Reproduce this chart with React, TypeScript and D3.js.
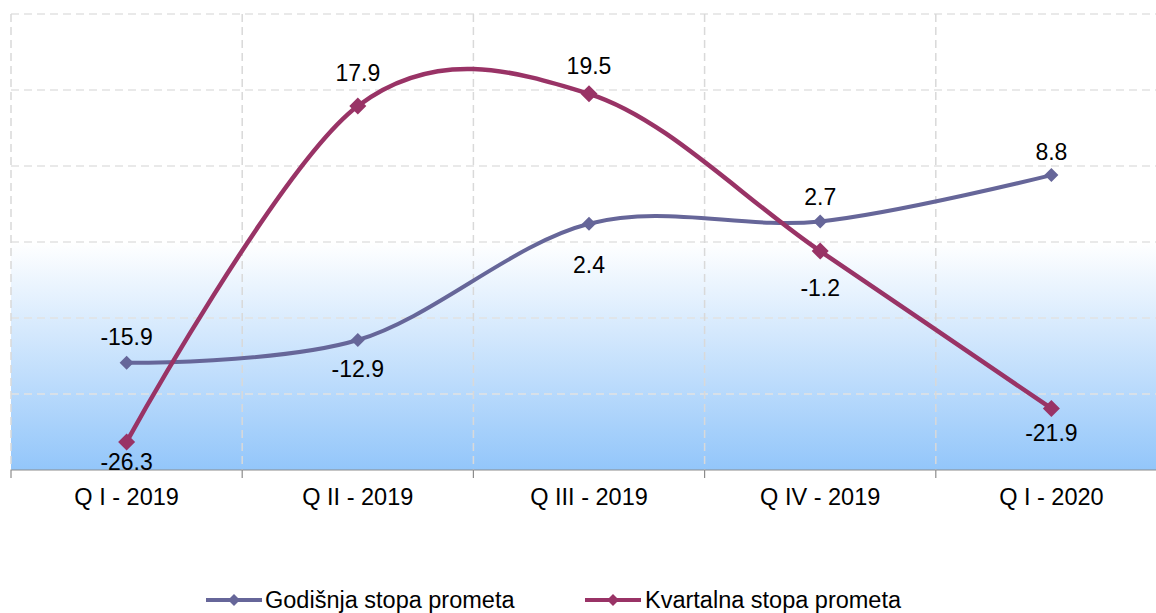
import React from "react";
import * as d3 from "d3";

const categories = ["Q I - 2019", "Q II - 2019", "Q III - 2019", "Q IV - 2019", "Q I - 2020"];
const godisnja = [-15.9, -12.9, 2.4, 2.7, 8.8];
const kvartalna = [-26.3, 17.9, 19.5, -1.2, -21.9];
const yTicks = [-30, -20, -10, 0, 10, 20, 30];
const seriesNames = ["Godišnja stopa prometa", "Kvartalna stopa prometa"];

// label vertical offsets (layout only)
const godLabelDy = [-26, 29, 41, -25, -23];
const kvaLabelDy = [20, -33, -28, 37, 25];

const W = 1156;
const H = 613;
const plotLeft = 11;
const plotRight = 1167;
const plotTop = 14;
const plotBottom = 470;
const FONT = "Liberation Sans, Arial, sans-serif";

export default function App() {
  const x = d3.scaleBand<string>().domain(categories).range([plotLeft, plotRight]).padding(0);
  const y = d3.scaleLinear().domain([-30, 30]).range([plotBottom, plotTop]);
  const cx = (c: string) => (x(c) as number) + x.bandwidth() / 2;
  const line = d3
    .line<number>()
    .x((_, i) => cx(categories[i]))
    .y((d) => y(d))
    .curve(d3.curveCardinal.tension(0));

  const series = [
    { name: seriesNames[0], values: godisnja, color: "#666699", dy: godLabelDy, r: 7, w: 4 },
    { name: seriesNames[1], values: kvartalna, color: "#993366", dy: kvaLabelDy, r: 8.5, w: 4.5 },
  ];
  const diamond = (r: number) => `M0,${-r}L${r},0L0,${r}L${-r},0Z`;
  const boundaries = categories.map((c) => x(c) as number).concat([plotRight]);
  const legendItems = [
    { lx: 206, tx: 265 },
    { lx: 585, tx: 645 },
  ];

  return (
    <svg width={W} height={H} style={{ position: "absolute", left: 0, top: 0 }}>
      <defs>
        <linearGradient id="bg" x1="0" y1={y(0)} x2="0" y2={plotBottom} gradientUnits="userSpaceOnUse">
          <stop offset="0" stopColor="#ffffff" />
          <stop offset="1" stopColor="#93c6fa" />
        </linearGradient>
        <clipPath id="clip">
          <rect x={plotLeft} y={0} width={plotRight - plotLeft} height={plotBottom} />
        </clipPath>
      </defs>
      <rect x={plotLeft} y={y(0)} width={plotRight - plotLeft} height={plotBottom - y(0)} fill="url(#bg)" />
      {yTicks.slice(1).map((t) => (
        <line key={"h" + t} x1={plotLeft} x2={plotRight} y1={y(t)} y2={y(t)} stroke="#e2e2e2" strokeWidth={1.5} strokeDasharray="8,5" />
      ))}
      {boundaries.map((b, i) => (
        <line key={"v" + i} x1={b} x2={b} y1={plotTop} y2={plotBottom} stroke="#d9d9d9" strokeWidth={1.5} strokeDasharray="8,5" />
      ))}
      <line x1={plotLeft} x2={plotRight} y1={plotBottom} y2={plotBottom} stroke="#8c8c8c" strokeWidth={1.2} />
      {boundaries.map((b, i) => (
        <line key={"t" + i} x1={b} x2={b} y1={plotBottom} y2={plotBottom + 8} stroke="#8c8c8c" strokeWidth={1.2} />
      ))}
      {categories.map((c) => (
        <text key={c} x={cx(c)} y={505} textAnchor="middle" fontFamily={FONT} fontSize={23.5} fill="#000">
          {c}
        </text>
      ))}
      <g clipPath="url(#clip)">
        {series.map((s) => (
          <path key={s.name} d={line(s.values) || ""} fill="none" stroke={s.color} strokeWidth={s.w} />
        ))}
      </g>
      {series.map((s) =>
        s.values.map((v, i) => (
          <path key={s.name + i} d={diamond(s.r)} transform={`translate(${cx(categories[i])},${y(v)})`} fill={s.color} />
        ))
      )}
      {series.map((s) =>
        s.values.map((v, i) => (
          <text
            key={s.name + "l" + i}
            x={cx(categories[i])}
            y={y(v) + s.dy[i]}
            dy="0.35em"
            textAnchor="middle"
            fontFamily={FONT}
            fontSize={23}
            fill="#000"
          >
            {v.toFixed(1)}
          </text>
        ))
      )}
      {series.map((s, i) => (
        <g key={"lg" + i}>
          <line x1={legendItems[i].lx} x2={legendItems[i].lx + 56} y1={600} y2={600} stroke={s.color} strokeWidth={4} />
          <path d={diamond(6)} transform={`translate(${legendItems[i].lx + 28},600)`} fill={s.color} />
          <text x={legendItems[i].tx} y={600} dy="0.35em" fontFamily={FONT} fontSize={23.5} fill="#000">
            {s.name}
          </text>
        </g>
      ))}
    </svg>
  );
}
